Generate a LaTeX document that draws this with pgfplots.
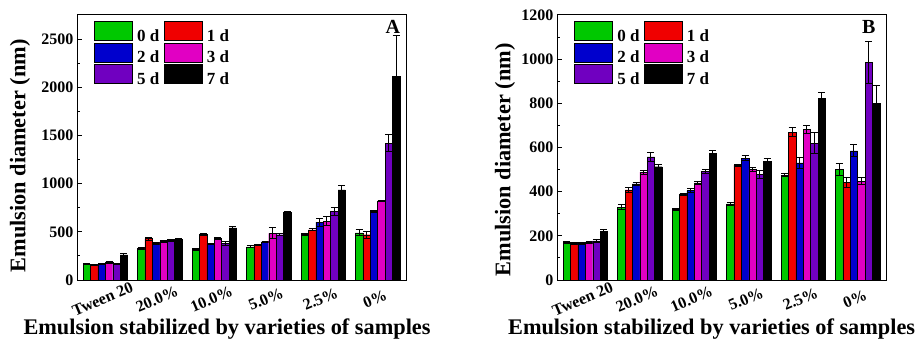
\documentclass[border=0pt]{standalone}
\usepackage{pgfplots}
\pgfplotsset{compat=1.18}
\usepackage{pgfplotstable}
\usepackage{fontspec}
\setmainfont{Liberation Serif}

\definecolor{c0}{RGB}{0,200,0}
\definecolor{c1}{RGB}{240,0,0}
\definecolor{c2}{RGB}{0,0,205}
\definecolor{c3}{RGB}{225,0,195}
\definecolor{c5}{RGB}{112,0,192}
\definecolor{c7}{RGB}{0,0,0}

\pgfplotstableread{
x v0 e0 v1 e1 v2 e2 v3 e3 v4 e4 v5 e5
1 165 6 160 6 168 6 180 8 170 6 262 8
2 330 10 430 15 380 8 400 8 410 6 425 8
3 318 8 475 10 375 8 430 10 380 20 540 20
4 345 8 362 8 395 8 485 55 470 8 700 8
5 472 8 520 10 600 40 610 45 710 40 935 45
6 490 30 470 35 715 10 820 10 1420 90 2115 420
}\dataA

\pgfplotstableread{
x v0 e0 v1 e1 v2 e2 v3 e3 v4 e4 v5 e5
1 170 5 167 4 167 4 170 5 177 5 220 8
2 330 10 408 12 435 5 488 10 557 20 513 8
3 320 5 387 5 405 8 440 8 492 8 575 10
4 345 8 520 5 552 12 500 10 478 20 538 10
5 475 5 670 22 530 25 683 18 620 48 823 25
6 500 27 442 22 585 27 448 15 986 95 801 80
}\dataB

\pgfplotsset{
  barst/.style={draw=black, line width=0.4pt,
    error bars/.cd, y dir=both, y explicit,
    error bar style={line width=1pt, black},
    error mark options={line width=1pt, black, mark size=3.5pt, rotate=90}},
  myaxis/.style={
    scale only axis, width=329pt, height=265pt, anchor=south west,
    ybar=0pt, bar width=7.4pt,
    xmin=0.48, xmax=6.52, ymin=0,
    xtick=\empty,
    minor xtick={1.5,2.5,3.5,4.5,5.5},
    extra x ticks={1,2,3,4,5,6},
    extra x tick labels={Tween 20,20.0\%,10.0\%,5.0\%,2.5\%,0\%},
    extra x tick style={tick style={draw=none}},
    xticklabel style={rotate=23, anchor=center, xshift=-3pt},
    xticklabel shift=18pt,
    tick pos=left, tick align=inside,
    minor y tick num=1,
    major tick length=5pt, minor tick length=3pt,
    axis line style={line width=1pt},
    every tick/.style={black, line width=1pt},
    ticklabel style={font=\fontsize{16}{16}\selectfont\bfseries},
    /pgf/number format/assume math mode=true,
    /pgf/number format/1000 sep={},
    label style={font=\fontsize{22.3}{22.3}\selectfont\bfseries},
    xlabel={Emulsion stabilized by varieties of samples},
    ylabel={Emulsion diameter (nm)},
    legend columns=2,
    legend style={anchor=north west, draw=none, fill=none,
      font=\fontsize{17}{17}\selectfont\bfseries,
      nodes={inner sep=1.5pt},
      column sep=3pt,
      row sep=-2pt},
    every axis plot post/.append style={legend image code/.code={
      \draw[#1, line width=0.4pt] (0pt,-4pt) rectangle (38pt,15pt);}},
  }
}

\newcommand\sixbars[1]{%
  \addplot[fill=c0, barst] table[x=x,y=v0,y error=e0]{#1};
  \addplot[fill=c1, barst] table[x=x,y=v1,y error=e1]{#1};
  \addplot[fill=c2, barst] table[x=x,y=v2,y error=e2]{#1};
  \addplot[fill=c3, barst] table[x=x,y=v3,y error=e3]{#1};
  \addplot[fill=c5, barst] table[x=x,y=v4,y error=e4]{#1};
  \addplot[fill=c7, barst] table[x=x,y=v5,y error=e5]{#1};
  \legend{0 d,1 d,2 d,3 d,5 d,7 d}
}

\begin{document}
\begin{tikzpicture}
\useasboundingbox (0,0) rectangle (917pt,340pt);
\begin{axis}[myaxis, at={(77pt,60pt)},
  ymax=2750, ytick={0,500,...,2500},
  xlabel style={at={(axis description cs:0.456,-0.205)}, anchor=base},
  ylabel style={at={(axis description cs:-0.173,0.468)}, anchor=center},
  legend style={at={(axis description cs:0.043,0.985)}}]
\sixbars{\dataA}
\node[font=\fontsize{20}{20}\selectfont\bfseries] at (axis description cs:0.96,0.955) {A};
\end{axis}
\begin{axis}[myaxis, at={(557pt,60pt)},
  ymax=1200, ytick={0,200,...,1200},
  xlabel style={at={(axis description cs:0.47,-0.205)}, anchor=base},
  ylabel style={at={(axis description cs:-0.158,0.453)}, anchor=center},
  legend style={at={(axis description cs:0.043,0.985)}}]
\sixbars{\dataB}
\node[font=\fontsize{20}{20}\selectfont\bfseries] at (axis description cs:0.948,0.955) {B};
\end{axis}
\end{tikzpicture}
\end{document}
